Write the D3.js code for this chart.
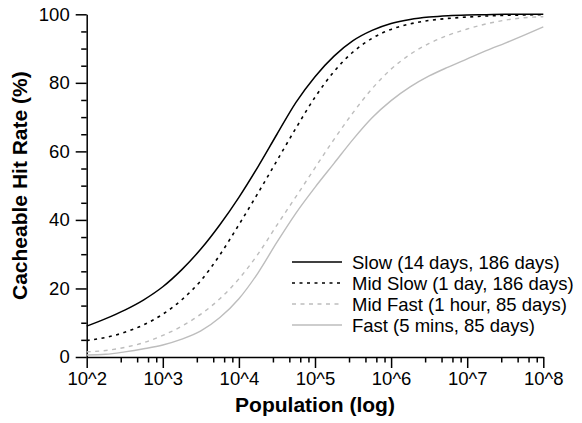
<!DOCTYPE html>
<html>
<head>
<meta charset="utf-8">
<script src="https://cdn.jsdelivr.net/npm/d3@7"></script>
<style>
  html, body { margin: 0; padding: 0; background: #fff; }
  svg { display: block; font-family: "Liberation Sans", Arial, Helvetica, sans-serif; }
</style>
</head>
<body>
<svg id="chart" width="582" height="423"></svg>
<script>
// ---- data ----
const logPopulation = [2.0, 2.25, 2.5, 2.75, 3.0, 3.25, 3.5, 3.75, 4.0, 4.25, 4.5, 4.75, 5.0, 5.25, 5.5, 5.75, 6.0, 6.25, 6.5, 6.75, 7.0, 7.25, 7.5, 7.75, 8.0];
const slow    = [9.0, 11.2, 13.7, 16.7, 20.5, 25.5, 31.5, 38.6, 46.6, 55.5, 65.0, 74.3, 81.8, 87.8, 92.3, 95.3, 97.3, 98.5, 99.2, 99.6, 99.8, 99.9, 100, 100, 100];
const midSlow = [4.8, 5.7, 7.2, 9.4, 12.5, 16.7, 22.3, 29.8, 38.6, 47.8, 57.3, 66.8, 75.8, 83.3, 89.0, 93.0, 95.6, 97.2, 98.2, 98.8, 99.2, 99.5, 99.7, 99.8, 99.9];
const midFast = [1.5, 1.9, 2.8, 4.2, 6.3, 9.0, 12.5, 17.0, 22.8, 30.0, 38.5, 46.8, 55.2, 63.5, 71.3, 78.3, 84.0, 88.3, 91.5, 93.9, 95.7, 97.2, 98.3, 99.0, 99.3];
const fast    = [0.6, 0.8, 1.5, 2.4, 3.5, 5.2, 7.6, 11.5, 17.0, 24.5, 33.5, 42.0, 49.5, 56.5, 63.5, 69.8, 74.8, 78.8, 82.0, 84.6, 87.0, 89.4, 91.6, 93.9, 96.3];
const seriesNames = ["Slow (14 days, 186 days)", "Mid Slow (1 day, 186 days)", "Mid Fast (1 hour, 85 days)", "Fast (5 mins, 85 days)"];
const xMajorTicks = [1e2, 1e3, 1e4, 1e5, 1e6, 1e7, 1e8];
const xTickLabels = ["10^2", "10^3", "10^4", "10^5", "10^6", "10^7", "10^8"];
const xMinorFactors = [2.8, 4.6, 6.4, 8.2];
const yMajorTicks = [0, 20, 40, 60, 80, 100];
const yMinorTicks = [5, 10, 15, 25, 30, 35, 45, 50, 55, 65, 70, 75, 85, 90, 95];

// ---- styles ----
const styles = [
  { color: "#000000", dash: null,  width: 1.5 },
  { color: "#000000", dash: "3,4.5", width: 1.6 },
  { color: "#bdbdbd", dash: "4,4.5", width: 1.4 },
  { color: "#bdbdbd", dash: null,  width: 1.4 }
];

const svg = d3.select("#chart");
const x = d3.scaleLog().domain([1e2, 1e8]).range([86.7, 543.3]);
const y = d3.scaleLinear().domain([0, 100]).range([357, 14.3]);

const xMinor = [];
for (let i = 0; i < xMajorTicks.length - 1; i++) xMinorFactors.forEach(f => xMinor.push(xMajorTicks[i] * f));

// axes
const gx = svg.append("g").attr("transform", `translate(0,${y(0)})`);
gx.call(d3.axisBottom(x).tickValues(xMinor).tickSize(5.5).tickSizeOuter(0).tickFormat(""));
gx.call(g => g.select(".domain").remove());
svg.append("g").attr("transform", `translate(0,${y(0)})`)
  .call(d3.axisBottom(x).tickValues(xMajorTicks).tickSize(11).tickSizeOuter(0).tickPadding(4)
    .tickFormat((d, i) => xTickLabels[i]));

const gy = svg.append("g").attr("transform", `translate(${x(1e2)},0)`);
gy.call(d3.axisLeft(y).tickValues(yMinorTicks).tickSize(5.5).tickSizeOuter(0).tickFormat(""));
gy.call(g => g.select(".domain").remove());
svg.append("g").attr("transform", `translate(${x(1e2)},0)`)
  .call(d3.axisLeft(y).tickValues(yMajorTicks).tickSize(11).tickSizeOuter(0).tickPadding(6));

svg.selectAll(".domain, .tick line").attr("stroke", "#000").attr("stroke-width", 1.5);
svg.selectAll(".tick text").attr("font-size", "18.5px").attr("fill", "#000")
  .style("font-family", '"Liberation Sans", Arial, sans-serif');

// lines
const seriesData = [slow, midSlow, midFast, fast];
const line = d3.line()
  .x((d, i) => x(Math.pow(10, logPopulation[i])))
  .y(d => y(d))
  .curve(d3.curveMonotoneX);

[3, 2, 1, 0].forEach(k => {
  svg.append("path")
    .datum(seriesData[k])
    .attr("d", line)
    .attr("fill", "none")
    .attr("stroke", styles[k].color)
    .attr("stroke-width", styles[k].width)
    .attr("stroke-dasharray", styles[k].dash);
});

// legend
const legendY = [262, 283, 304, 325];
seriesNames.forEach((name, k) => {
  svg.append("line")
    .attr("x1", 292).attr("x2", 342)
    .attr("y1", legendY[k]).attr("y2", legendY[k])
    .attr("stroke", styles[k].color)
    .attr("stroke-width", styles[k].width)
    .attr("stroke-dasharray", styles[k].dash);
  svg.append("text")
    .attr("x", 352).attr("y", legendY[k] + 6.5)
    .attr("font-size", "18.5px")
    .text(name);
});

// axis titles
svg.append("text")
  .attr("x", 315).attr("y", 412)
  .attr("text-anchor", "middle")
  .attr("font-size", "21px").attr("font-weight", "bold")
  .text("Population (log)");
svg.append("text")
  .attr("transform", `translate(27,${(y(0) + y(100)) / 2}) rotate(-90)`)
  .attr("text-anchor", "middle")
  .attr("font-size", "21px").attr("font-weight", "bold")
  .text("Cacheable Hit Rate (%)");
</script>
</body>
</html>
